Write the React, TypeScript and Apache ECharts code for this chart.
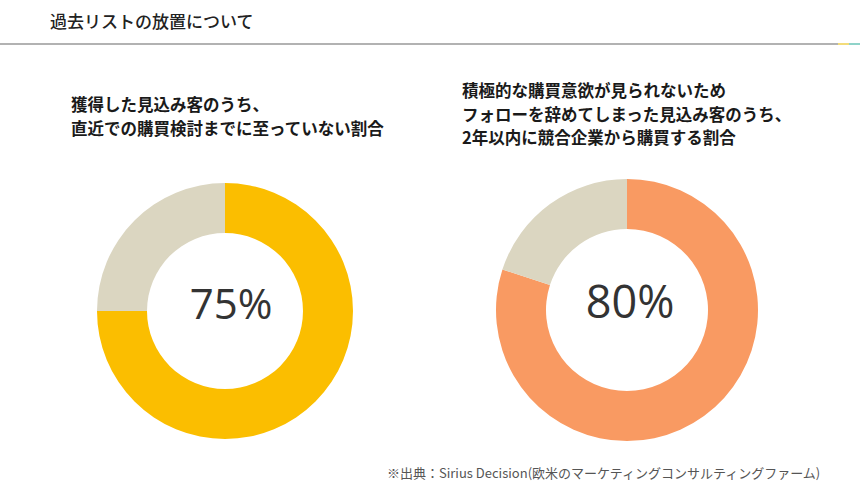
import React, { useEffect, useRef } from "react";
import * as echarts from "echarts";

const pageTitle = "過去リストの放置について";
const leftHeading = ["獲得した見込み客のうち、", "直近での購買検討までに至っていない割合"];
const rightHeading = [
  "積極的な購買意欲が見られないため",
  "フォローを辞めてしまった見込み客のうち、",
  "2年以内に競合企業から購買する割合",
];
const sliceNames = ["該当", "その他"];
const leftValues = [75, 25];
const rightValues = [80, 20];
const footnote = "※出典：Sirius Decision(欧米のマーケティングコンサルティングファーム)";

const JP = '"Noto Sans CJK JP", "Noto Sans", sans-serif';

export default function App() {
  const ref = useRef<HTMLDivElement>(null);
  useEffect(() => {
    if (!ref.current) return;
    const chart = echarts.init(ref.current, undefined, { renderer: "svg" });
    const mkPie = (values: number[], center: [number, number], radius: [number, number], color: string) => ({
      type: "pie",
      center,
      radius,
      startAngle: 90,
      clockwise: true,
      silent: true,
      label: { show: false },
      labelLine: { show: false },
      itemStyle: { borderWidth: 0 },
      data: values.map((v, i) => ({
        name: sliceNames[i],
        value: v,
        itemStyle: { color: i === 0 ? color : "#DBD6C1" },
      })),
    });
    const pct = (values: number[]) => `${values[0]}%`;
    chart.setOption({
      animation: false,
      backgroundColor: "#ffffff",
      series: [
        mkPie(leftValues, [225, 311], [78, 128], "#FBBE00"),
        mkPie(rightValues, [627, 310], [81, 131], "#F99A62"),
      ],
      graphic: [
        {
          type: "text",
          left: 50,
          top: 12,
          style: { text: pageTitle, font: `500 17px ${JP}`, fill: "#222" },
        },
        { type: "rect", shape: { x: 0, y: 43, width: 838, height: 2 }, style: { fill: "#B2B2B2" } },
        { type: "rect", shape: { x: 838, y: 43, width: 11, height: 2 }, style: { fill: "#F3DC7A" } },
        { type: "rect", shape: { x: 849, y: 43, width: 11, height: 2 }, style: { fill: "#8FD3C9" } },
        ...leftHeading.map((t, i) => ({
          type: "text",
          x: 71,
          y: 104 + i * 24,
          style: { text: t, font: `bold 16.5px ${JP}`, fill: "#1a1a1a", textVerticalAlign: "middle" },
        })),
        ...rightHeading.map((t, i) => ({
          type: "text",
          x: 462,
          y: 90 + i * 23.5,
          style: { text: t, font: `bold 16.5px ${JP}`, fill: "#1a1a1a", textVerticalAlign: "middle" },
        })),
        {
          type: "text",
          x: 231,
          y: 302,
          style: {
            text: pct(leftValues),
            font: `400 42px "Open Sans", sans-serif`,
            fill: "#333",
            textAlign: "center",
            textVerticalAlign: "middle",
          },
        },
        {
          type: "text",
          x: 630,
          y: 300,
          style: {
            text: pct(rightValues),
            font: `400 45px "Open Sans", sans-serif`,
            fill: "#333",
            textAlign: "center",
            textVerticalAlign: "middle",
          },
        },
        {
          type: "text",
          x: 387,
          y: 472,
          style: { text: footnote, font: `13px ${JP}`, fill: "#555", textVerticalAlign: "middle" },
        },
      ],
    });
    return () => chart.dispose();
  }, []);
  return (
    <div
      ref={ref}
      style={{ position: "absolute", left: 0, top: 0, width: 860, height: 483 }}
    />
  );
}
